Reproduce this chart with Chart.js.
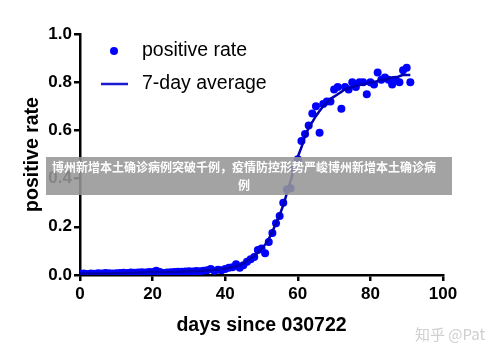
<!DOCTYPE html>
<html><head><meta charset="utf-8">
<script src="https://cdn.jsdelivr.net/npm/chart.js@4/dist/chart.umd.min.js"></script>
<style>
html,body{margin:0;padding:0;background:#fff;}
#wrap{position:relative;width:500px;height:353px;overflow:hidden;}
#banner{position:absolute;left:46px;top:157px;width:406px;height:38px;background:rgba(150,150,150,0.88);color:#fff;font:bold 12px "Noto Sans CJK SC",sans-serif;line-height:18px;text-align:center;padding:1px 10px 0 0;box-sizing:border-box;}
#wm{position:absolute;left:415px;top:323px;color:#cfcfcf;font:15px "Noto Sans CJK SC",sans-serif;}
</style></head>
<body><div id="wrap"><canvas id="c" width="500" height="353"></canvas>
<div id="banner">博州新增本土确诊病例突破千例，疫情防控形势严峻博州新增本土确诊病<br>例</div>
<div id="wm">知乎 @Pat</div></div>
<script>
const days = [0,1,2,3,4,5,6,7,8,9,10,11,12,13,14,15,16,17,18,19,20,21,22,23,24,25,26,27,28,29,30,31,32,33,34,35,36,37,38,39,40,41,42,43,44,45,46,47,48,49,50,51,52,53,54,55,56,57,58,59,60,61,62,63,64,65,66,67,68,69,70,71,72,73,74,75,76,77,78,79,80,81,82,83,84,85,86,87,88,89,90,91];
const positiveRate = [
0.005,0.006,0.004,0.006,0.005,0.007,0.006,0.008,0.007,0.006,
0.007,0.008,0.009,0.008,0.010,0.009,0.010,0.011,0.010,0.012,
0.012,0.018,0.012,0.008,0.010,0.011,0.012,0.013,0.014,0.015,
0.016,0.015,0.017,0.016,0.018,0.020,0.025,0.018,0.022,0.020,
0.025,0.030,0.032,0.045,0.030,0.040,0.055,0.065,0.075,0.104,
0.110,0.090,0.137,0.174,0.215,0.245,0.300,0.355,0.360,0.440,
0.480,0.556,0.585,0.620,0.670,0.700,0.590,0.710,0.720,0.720,
0.770,0.780,0.690,0.780,0.770,0.800,0.780,0.800,0.800,0.750,
0.800,0.790,0.840,0.810,0.820,0.810,0.790,0.810,0.800,0.850,
0.860,0.800];
const sevenDayAvg = [
0.006,0.006,0.006,0.006,0.006,0.006,0.006,0.006,0.007,0.007,
0.007,0.008,0.008,0.009,0.009,0.009,0.010,0.010,0.011,0.012,
0.012,0.012,0.012,0.012,0.012,0.012,0.012,0.013,0.014,0.015,
0.015,0.016,0.016,0.017,0.018,0.019,0.020,0.021,0.022,0.024,
0.026,0.029,0.033,0.036,0.041,0.048,0.058,0.068,0.080,0.092,
0.108,0.126,0.150,0.180,0.215,0.250,0.290,0.340,0.390,0.440,
0.490,0.530,0.575,0.610,0.635,0.660,0.680,0.700,0.715,0.730,
0.740,0.750,0.760,0.770,0.775,0.780,0.785,0.790,0.790,0.795,
0.800,0.800,0.805,0.810,0.810,0.815,0.820,0.820,0.825,0.830,
0.830,0.830];
const xTicks = [0,20,40,60,80,100];
const yTicks = [0,0.2,0.4,0.6,0.8,1.0];
const legendLabels = ['positive rate','7-day average'];
const xTitle = 'days since 030722';
const yTitle = 'positive rate';

const PT = '#0000ff', LN = '#0000b0';
const legendPlugin = {
  id:'lg',
  afterDraw(chart){
    const ctx = chart.ctx;
    ctx.save();
    ctx.fillStyle = PT;
    ctx.beginPath(); ctx.arc(114,51,4,0,Math.PI*2); ctx.fill();
    ctx.strokeStyle = '#1a1ad0'; ctx.lineWidth = 2.5;
    ctx.beginPath(); ctx.moveTo(101,84); ctx.lineTo(128,84); ctx.stroke();
    ctx.fillStyle = '#000';
    ctx.font = '19.5px "Liberation Sans", Arial, sans-serif';
    ctx.textBaseline = 'middle'; ctx.textAlign = 'left';
    ctx.fillText(legendLabels[0],142,51);
    ctx.fillText(legendLabels[1],142,84);
    ctx.restore();
  }
};
const pts = days.map((d,i)=>({x:d,y:positiveRate[i]}));
const avg = days.map((d,i)=>({x:d,y:sevenDayAvg[i]}));
new Chart(document.getElementById('c'),{
  type:'scatter',
  data:{datasets:[
    {label:legendLabels[1],data:avg,showLine:true,borderColor:LN,borderWidth:2.5,pointRadius:0,tension:0.3,order:0},
    {label:legendLabels[0],data:pts,backgroundColor:PT,borderColor:PT,pointRadius:4,pointBorderWidth:0,order:1}
  ]},
  options:{
    responsive:false,animation:false,
    layout:{padding:{top:34,right:57,left:0,bottom:0}},
    plugins:{legend:{display:false},tooltip:{enabled:false}},
    scales:{
      x:{type:'linear',min:0,max:100,
        afterBuildTicks(s){s.ticks=xTicks.map(v=>({value:v}));},
        afterFit(s){s.height=78;},
        ticks:{color:'#000',font:{family:'"Liberation Sans", Arial, sans-serif',size:17,weight:'bold'},padding:3,maxRotation:0},
        grid:{drawOnChartArea:false,drawTicks:true,tickLength:6,color:'#000',lineWidth:2.5},
        border:{display:true,color:'#000',width:2.5},
        title:{display:true,text:xTitle,color:'#000',font:{family:'"Liberation Sans", Arial, sans-serif',size:19.5,weight:'bold'},padding:{top:0,bottom:16}}
      },
      y:{type:'linear',min:0,max:1,
        afterBuildTicks(s){s.ticks=yTicks.map(v=>({value:v}));},
        afterFit(s){s.width=80;},
        ticks:{color:'#000',font:{family:'"Liberation Sans", Arial, sans-serif',size:17,weight:'bold'},padding:2,callback:v=>v.toFixed(1)},
        grid:{drawOnChartArea:false,drawTicks:true,tickLength:6,color:'#000',lineWidth:2.5},
        border:{display:true,color:'#000',width:2.5},
        title:{display:true,text:yTitle,color:'#000',font:{family:'"Liberation Sans", Arial, sans-serif',size:19.5,weight:'bold'},padding:{top:21,bottom:0}}
      }
    }
  },
  plugins:[legendPlugin]
});
</script></body></html>
